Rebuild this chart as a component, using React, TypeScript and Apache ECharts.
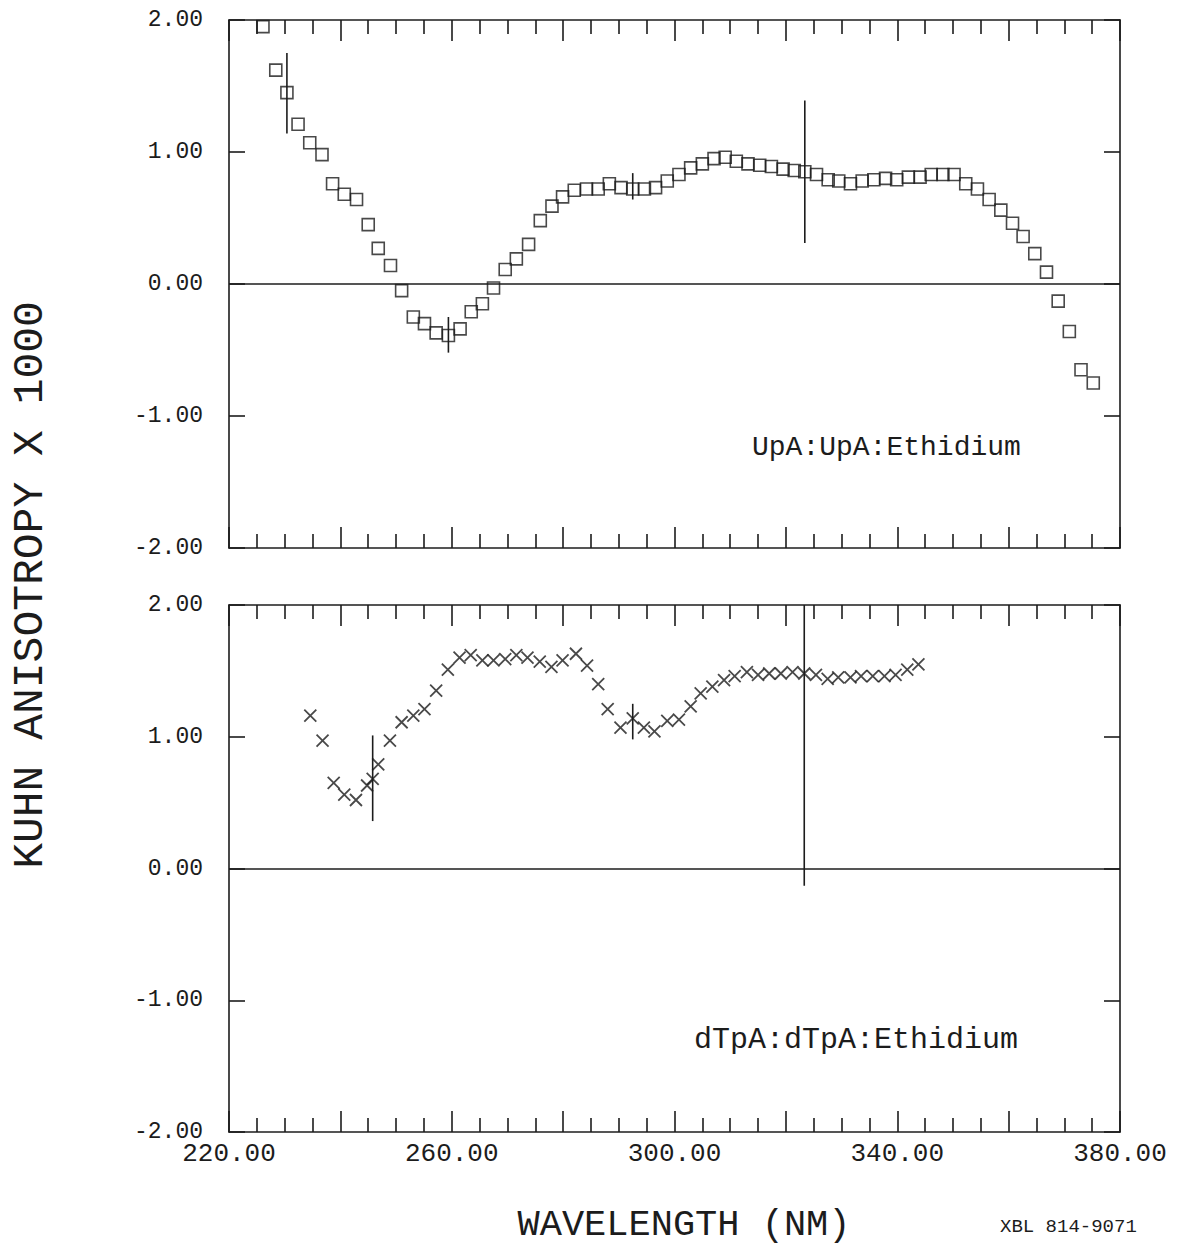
import React, { useEffect, useRef } from "react";
import * as echarts from "echarts";

// Top panel: UpA:UpA:Ethidium (squares)
const topX = [226.1, 228.4, 230.4, 232.4, 234.5, 236.7, 238.6, 240.7, 242.9, 245.0, 246.8, 249.0, 251.0, 253.1, 255.1, 257.2, 259.4, 261.5, 263.5, 265.5, 267.5, 269.6, 271.6, 273.8, 275.9, 278.0, 279.9, 282.0, 284.2, 286.3, 288.3, 290.4, 292.5, 294.6, 296.6, 298.7, 300.8, 302.9, 305.0, 307.1, 309.1, 311.1, 313.2, 315.3, 317.4, 319.5, 321.5, 323.4, 325.5, 327.6, 329.5, 331.6, 333.7, 335.8, 337.9, 339.9, 342.0, 344.1, 346.1, 348.2, 350.2, 352.3, 354.4, 356.5, 358.6, 360.7, 362.6, 364.7, 366.8, 368.9, 370.9, 373.0, 375.2];
const topY = [1.95, 1.62, 1.45, 1.21, 1.07, 0.98, 0.76, 0.68, 0.64, 0.45, 0.27, 0.14, -0.05, -0.25, -0.30, -0.37, -0.39, -0.34, -0.21, -0.15, -0.03, 0.11, 0.19, 0.30, 0.48, 0.59, 0.66, 0.71, 0.72, 0.72, 0.76, 0.73, 0.72, 0.72, 0.73, 0.78, 0.83, 0.88, 0.91, 0.95, 0.96, 0.93, 0.91, 0.90, 0.89, 0.87, 0.86, 0.85, 0.83, 0.79, 0.78, 0.76, 0.78, 0.79, 0.80, 0.79, 0.81, 0.81, 0.83, 0.83, 0.83, 0.76, 0.72, 0.64, 0.56, 0.46, 0.36, 0.23, 0.09, -0.13, -0.36, -0.65, -0.75];
// error bars: [wavelength, low, high]
const topErr = [
  [230.4, 1.14, 1.75],
  [259.4, -0.52, -0.25],
  [292.5, 0.64, 0.84],
  [323.4, 0.31, 1.39],
];

// Bottom panel: dTpA:dTpA:Ethidium (crosses)
const botX = [234.6, 236.8, 238.8, 240.7, 242.8, 244.8, 245.8, 246.8, 248.9, 251.0, 253.1, 255.1, 257.2, 259.3, 261.4, 263.4, 265.5, 267.5, 269.6, 271.6, 273.6, 275.8, 277.9, 279.9, 282.3, 284.3, 286.3, 288.0, 290.3, 292.5, 294.5, 296.4, 298.7, 300.8, 302.9, 304.7, 306.8, 308.9, 310.8, 313.0, 315.0, 317.0, 319.1, 321.2, 323.3, 325.4, 327.5, 329.4, 331.6, 333.5, 335.6, 337.7, 339.7, 341.8, 343.8];
const botY = [1.16, 0.97, 0.65, 0.56, 0.52, 0.63, 0.68, 0.79, 0.97, 1.11, 1.16, 1.21, 1.35, 1.51, 1.60, 1.62, 1.58, 1.58, 1.59, 1.62, 1.60, 1.57, 1.53, 1.58, 1.63, 1.54, 1.40, 1.21, 1.07, 1.14, 1.07, 1.04, 1.12, 1.13, 1.23, 1.33, 1.38, 1.43, 1.46, 1.49, 1.47, 1.48, 1.48, 1.49, 1.48, 1.47, 1.44, 1.45, 1.45, 1.46, 1.46, 1.46, 1.47, 1.51, 1.55];
const botErr = [
  [245.8, 0.36, 1.01],
  [292.5, 0.98, 1.25],
  [323.3, -0.13, 2.0],
];

const xLabelValues = [220, 260, 300, 340, 380];
const topLabel = "UpA:UpA:Ethidium";
const botLabel = "dTpA:dTpA:Ethidium";
const yTitle = "KUHN ANISOTROPY X 1000";
const xTitle = "WAVELENGTH (NM)";
const refCode = "XBL 814-9071";

const INK = "#1c1c1c";
const FONT = "Liberation Mono";

export default function App() {
  const ref = useRef<HTMLDivElement>(null);
  useEffect(() => {
    if (!ref.current) return;
    const chart = echarts.init(ref.current, null, { renderer: "svg" });
    const line = { color: INK, width: 1.6 };

    const xAx = (gridIndex: number, position: string, showLabels: boolean) => ({
      type: "value",
      gridIndex,
      position,
      min: 220,
      max: 380,
      interval: 20,
      axisLine: { show: true, onZero: false, lineStyle: line },
      axisTick: { show: true, inside: true, length: 21, lineStyle: line },
      minorTick: { show: true, splitNumber: 4, length: 14, lineStyle: line },
      splitLine: { show: false },
      minorSplitLine: { show: false },
      axisLabel: showLabels
        ? {
            show: true,
            margin: 9,
            color: INK,
            fontFamily: FONT,
            fontSize: 26,
            formatter: (v: number) => (xLabelValues.includes(Math.round(v)) ? v.toFixed(2) : ""),
          }
        : { show: false },
    });
    const yAx = (gridIndex: number, position: string, showLabels: boolean) => ({
      type: "value",
      gridIndex,
      position,
      min: -2,
      max: 2,
      interval: 1,
      axisLine: { show: true, onZero: false, lineStyle: line },
      axisTick: { show: true, inside: true, length: 16, lineStyle: line },
      splitLine: { show: false },
      axisLabel: showLabels
        ? {
            show: true,
            margin: 26,
            color: INK,
            fontFamily: FONT,
            fontSize: 23,
            lineHeight: 20,
            formatter: (v: number) => v.toFixed(2),
          }
        : { show: false },
    });

    const zeroLine = {
      silent: true,
      symbol: "none",
      label: { show: false },
      lineStyle: { color: INK, width: 1.6, type: "solid" },
      data: [{ yAxis: 0 }],
    };

    const errRender = (params: any, api: any) => {
      const x = api.value(0);
      const p1 = api.coord([x, api.value(1)]);
      const p2 = api.coord([x, api.value(2)]);
      return {
        type: "line",
        shape: { x1: p1[0], y1: p1[1], x2: p2[0], y2: p2[1] },
        style: { stroke: INK, lineWidth: 1.6 },
      };
    };

    chart.setOption({
      animation: false,
      backgroundColor: "#ffffff",
      grid: [
        { left: 229, top: 20, width: 891, height: 528 },
        { left: 229, top: 605, width: 891, height: 527 },
      ],
      xAxis: [xAx(0, "bottom", false), xAx(0, "top", false), xAx(1, "bottom", true), xAx(1, "top", false)],
      yAxis: [yAx(0, "left", true), yAx(0, "right", false), yAx(1, "left", true), yAx(1, "right", false)],
      series: [
        {
          type: "scatter",
          xAxisIndex: 0,
          yAxisIndex: 0,
          symbol: "rect",
          symbolSize: 12,
          itemStyle: { color: "rgba(0,0,0,0)", borderColor: INK, borderWidth: 1.6 },
          data: topX.map((x, i) => [x, topY[i]]),
          markLine: zeroLine,
        },
        {
          type: "custom",
          xAxisIndex: 0,
          yAxisIndex: 0,
          renderItem: errRender,
          encode: { x: 0, y: [1, 2] },
          data: topErr,
        },
        {
          type: "scatter",
          xAxisIndex: 2,
          yAxisIndex: 2,
          symbol: "path://M0,0L10,10M10,0L0,10",
          symbolSize: 12,
          itemStyle: { color: "rgba(0,0,0,0)", borderColor: INK, borderWidth: 1.8 },
          data: botX.map((x, i) => [x, botY[i]]),
          markLine: zeroLine,
        },
        {
          type: "custom",
          xAxisIndex: 2,
          yAxisIndex: 2,
          renderItem: errRender,
          encode: { x: 0, y: [1, 2] },
          data: botErr,
        },
      ],
      graphic: [
        {
          type: "text",
          left: 752,
          top: 433,
          style: { text: topLabel, fontFamily: FONT, fontSize: 28, fill: INK },
        },
        {
          type: "text",
          left: 694,
          top: 1025,
          style: { text: botLabel, fontFamily: FONT, fontSize: 30, fill: INK },
        },
        {
          type: "text",
          x: 30,
          y: 585,
          rotation: Math.PI / 2,
          style: {
            text: yTitle,
            fontFamily: FONT,
            fontSize: 43,
            fill: INK,
            align: "center",
            verticalAlign: "middle",
          },
        },
        {
          type: "text",
          x: 684,
          y: 1225,
          style: {
            text: xTitle,
            fontFamily: FONT,
            fontSize: 37,
            fill: INK,
            align: "center",
            verticalAlign: "middle",
          },
        },
        {
          type: "text",
          x: 1000,
          y: 1227,
          style: {
            text: refCode,
            fontFamily: FONT,
            fontSize: 19,
            fill: INK,
            align: "left",
            verticalAlign: "middle",
          },
        },
      ],
    });
    return () => chart.dispose();
  }, []);
  return (
    <div
      ref={ref}
      style={{ position: "fixed", left: 0, top: 0, width: 1199, height: 1246, background: "#fff" }}
    />
  );
}
